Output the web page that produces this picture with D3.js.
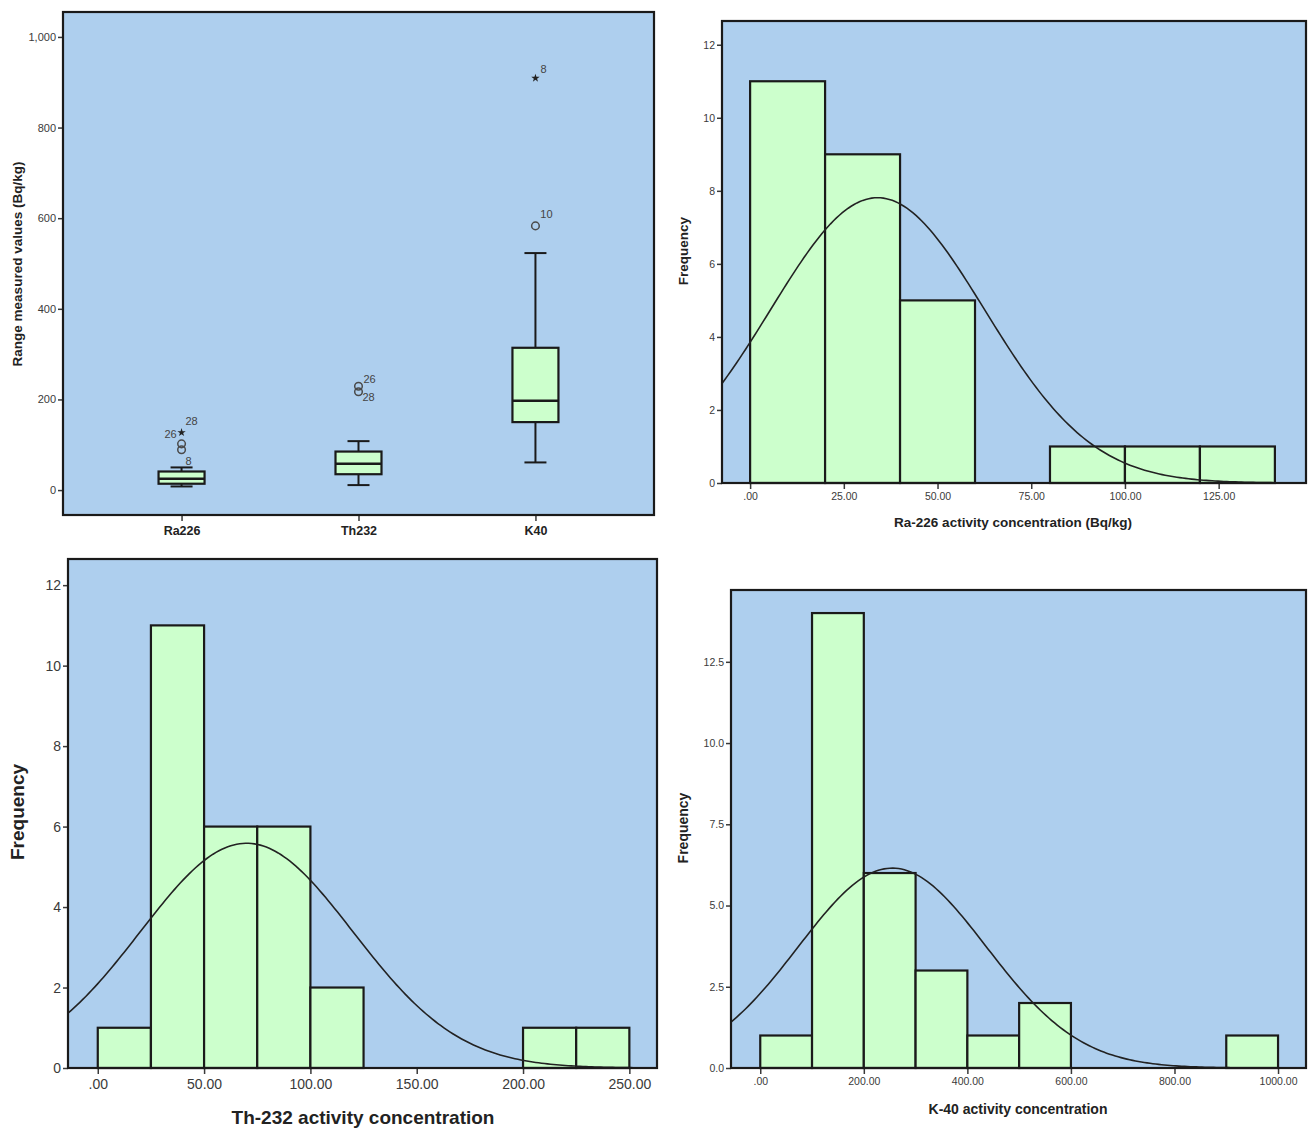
<!DOCTYPE html>
<html>
<head>
<meta charset="utf-8">
<script src="https://cdn.jsdelivr.net/npm/d3@7/dist/d3.min.js"></script>
<style>
  body { margin: 0; background: #fff; }
  svg { display: block; font-family: "Liberation Sans", Arial, sans-serif; }
</style>
</head>
<body>
<svg width="1309" height="1131"></svg>
<script>
// Box plot data (Bq/kg)
var boxCategories = ["Ra226", "Th232", "K40"];
var boxLow    = [8, 11, 61];
var boxQ1     = [14, 35, 150];
var boxMedian = [25, 58, 197];
var boxQ3     = [41, 85, 314];
var boxHigh   = [50, 108, 523];
var boxTicks  = [0, 200, 400, 600, 800, 1000];

// outliers: category, value, case label, extreme (star) or not
var outliers = [
  {cat: "Ra226", v: 89,  label: "8",  extreme: false},
  {cat: "Ra226", v: 102, label: "28", extreme: false},
  {cat: "Ra226", v: 127, label: "26", extreme: true},
  {cat: "Th232", v: 217, label: "28", extreme: false},
  {cat: "Th232", v: 229, label: "26", extreme: false},
  {cat: "K40",   v: 583, label: "10", extreme: false},
  {cat: "K40",   v: 909, label: "8",  extreme: true}
];
// where SPSS put each case label, relative to its point
var labelNudge = [[7, 11], [10, -23], [-11, 1], [10, 5], [11, -7], [11, -12], [8, -9]];

// Histograms
var raBins   = [0, 20, 40, 60, 80, 100, 120, 140];
var raCounts = [11, 9, 5, 0, 1, 1, 1];
var raTicks  = [0, 25, 50, 75, 100, 125];
var raFit    = {mean: 34, sd: 28.6, n: 28};

var thBins   = [0, 25, 50, 75, 100, 125, 150, 175, 200, 225, 250];
var thCounts = [1, 11, 6, 6, 2, 0, 0, 0, 1, 1];
var thTicks  = [0, 50, 100, 150, 200, 250];
var thFit    = {mean: 70, sd: 50, n: 28};

var kBins    = [0, 100, 200, 300, 400, 500, 600, 700, 800, 900, 1000];
var kCounts  = [1, 14, 6, 3, 1, 2, 0, 0, 0, 1];
var kTicks   = [0, 200, 400, 600, 800, 1000];
var kFit     = {mean: 255, sd: 181.6, n: 28};

var svg = d3.select("svg");
var plotBg = "#aecfee", barFill = "#ccffcc", ink = "#1a1a1a", tickInk = "#3a3a3a";

function styleAxis(g, size) {
  g.select(".domain").remove();
  g.selectAll(".tick line").attr("stroke", tickInk).attr("stroke-width", 1.5);
  g.selectAll(".tick text").attr("fill", tickInk).style("font-size", size + "px")
    .style("font-family", "'Liberation Sans', Arial, sans-serif");
}

function frame(g, x0, y0, x1, y1) {
  g.append("rect").attr("x", x0).attr("y", y0).attr("width", x1 - x0).attr("height", y1 - y0)
    .attr("fill", "none").attr("stroke", ink).attr("stroke-width", 2.2);
}

// ---------- box plot ----------
(function() {
  var x0 = 63, x1 = 654, y0 = 12, y1 = 515;
  var g = svg.append("g");
  g.append("rect").attr("x", x0).attr("y", y0).attr("width", x1 - x0).attr("height", y1 - y0).attr("fill", plotBg);

  var y = d3.scaleLinear().domain([-55, 1055]).range([y1, y0]);
  var x = d3.scalePoint().domain(boxCategories).range([x0, x1]).padding(0.67);

  g.append("g").attr("transform", "translate(" + x0 + ",0)")
    .call(d3.axisLeft(y).tickValues(boxTicks).tickFormat(d3.format(",")).tickSize(5).tickPadding(2))
    .call(styleAxis, 11);
  var xa = g.append("g").attr("transform", "translate(0," + y1 + ")")
    .call(d3.axisBottom(x).tickSize(6).tickPadding(5))
    .call(styleAxis, 12.5);
  xa.selectAll(".tick text").attr("font-weight", "bold").attr("fill", "#222");

  var bw = 46, cw = 22;
  boxCategories.forEach(function(c, i) {
    var cx = x(c);
    g.append("line").attr("x1", cx).attr("x2", cx).attr("y1", y(boxLow[i])).attr("y2", y(boxHigh[i]))
      .attr("stroke", ink).attr("stroke-width", 2);
    [boxLow[i], boxHigh[i]].forEach(function(v) {
      g.append("line").attr("x1", cx - cw / 2).attr("x2", cx + cw / 2).attr("y1", y(v)).attr("y2", y(v))
        .attr("stroke", ink).attr("stroke-width", 2);
    });
    g.append("rect").attr("x", cx - bw / 2).attr("width", bw)
      .attr("y", y(boxQ3[i])).attr("height", y(boxQ1[i]) - y(boxQ3[i]))
      .attr("fill", barFill).attr("stroke", ink).attr("stroke-width", 2.2);
    g.append("line").attr("x1", cx - bw / 2).attr("x2", cx + bw / 2).attr("y1", y(boxMedian[i])).attr("y2", y(boxMedian[i]))
      .attr("stroke", ink).attr("stroke-width", 2.6);
  });

  outliers.forEach(function(o, i) {
    var cx = x(o.cat), cy = y(o.v);
    if (o.extreme) {
      g.append("path").attr("transform", "translate(" + cx + "," + cy + ")")
        .attr("d", d3.symbol(d3.symbolStar, 22)()).attr("fill", "#222");
    } else {
      g.append("circle").attr("cx", cx).attr("cy", cy).attr("r", 3.8)
        .attr("fill", "none").attr("stroke", "#4a4a4a").attr("stroke-width", 1.5);
    }
    g.append("text").attr("x", cx + labelNudge[i][0]).attr("y", cy + labelNudge[i][1] + 4)
      .attr("text-anchor", "middle").attr("fill", "#444").style("font-size", "11px").text(o.label);
  });

  g.append("text").attr("transform", "translate(22,264) rotate(-90)").attr("text-anchor", "middle")
    .attr("font-weight", "bold").attr("fill", "#222").style("font-size", "13.5px")
    .text("Range measured values (Bq/kg)");

  frame(g, x0, y0, x1, y1);
})();

// ---------- histograms ----------
function histogram(opt) {
  var g = svg.append("g");
  var x0 = opt.box[0], y0 = opt.box[1], x1 = opt.box[2], y1 = opt.box[3];
  g.append("rect").attr("x", x0).attr("y", y0).attr("width", x1 - x0).attr("height", y1 - y0).attr("fill", plotBg);

  var x = d3.scaleLinear().domain(opt.xDomain).range([x0, x1]);
  var y = d3.scaleLinear().domain(opt.yDomain).range([y1, y0]);

  g.append("g").attr("transform", "translate(" + x0 + ",0)")
    .call(d3.axisLeft(y).tickValues(opt.yTicks).tickFormat(opt.yFormat).tickSize(5).tickPadding(2))
    .call(styleAxis, opt.tickSize);
  g.append("g").attr("transform", "translate(0," + y1 + ")")
    .call(d3.axisBottom(x).tickValues(opt.xTicks)
      .tickFormat(function(v) { return v === 0 ? ".00" : d3.format(".2f")(v); })
      .tickSize(6).tickPadding(opt.xPad))
    .call(styleAxis, opt.tickSize);

  var bars = opt.counts.map(function(c, i) { return {a: opt.bins[i], b: opt.bins[i + 1], c: c}; })
    .filter(function(d) { return d.c > 0; });
  g.selectAll("rect.bar").data(bars).enter().append("rect").attr("class", "bar")
    .attr("x", function(d) { return x(d.a); })
    .attr("width", function(d) { return x(d.b) - x(d.a); })
    .attr("y", function(d) { return y(d.c); })
    .attr("height", function(d) { return y(0) - y(d.c); })
    .attr("fill", barFill).attr("stroke", ink).attr("stroke-width", 2.2);

  // fitted normal curve: n * bin width * normal density
  var w = opt.bins[1] - opt.bins[0], f = opt.fit;
  var xs = d3.range(200).map(function(i) { return opt.xDomain[0] + (opt.xDomain[1] - opt.xDomain[0]) * i / 199; });
  var line = d3.line()
    .x(function(v) { return x(v); })
    .y(function(v) {
      var z = (v - f.mean) / f.sd;
      return y(f.n * w * Math.exp(-0.5 * z * z) / (f.sd * Math.sqrt(2 * Math.PI)));
    });
  g.append("path").attr("d", line(xs)).attr("fill", "none").attr("stroke", "#222").attr("stroke-width", 1.6);

  g.append("text").attr("transform", "translate(" + opt.yLabelPos[0] + "," + opt.yLabelPos[1] + ") rotate(-90)")
    .attr("text-anchor", "middle").attr("font-weight", "bold").attr("fill", "#222")
    .style("font-size", opt.labelSize + "px").text("Frequency");
  g.append("text").attr("x", opt.xLabelPos[0]).attr("y", opt.xLabelPos[1])
    .attr("text-anchor", "middle").attr("font-weight", "bold").attr("fill", "#222")
    .style("font-size", opt.labelSize + "px").text(opt.xLabel);

  frame(g, x0, y0, x1, y1);
}

histogram({
  box: [722, 21, 1306, 483], xDomain: [-7.5, 148.3], yDomain: [0, 12.65],
  bins: raBins, counts: raCounts, fit: raFit, xTicks: raTicks, yTicks: [0, 2, 4, 6, 8, 10, 12],
  yFormat: d3.format("d"), tickSize: 10.5, xPad: 4,
  labelSize: 13.5, yLabelPos: [688, 251], xLabelPos: [1013, 527],
  xLabel: "Ra-226 activity concentration (Bq/kg)"
});

histogram({
  box: [68, 559, 657, 1068], xDomain: [-14, 263], yDomain: [0, 12.65],
  bins: thBins, counts: thCounts, fit: thFit, xTicks: thTicks, yTicks: [0, 2, 4, 6, 8, 10, 12],
  yFormat: d3.format("d"), tickSize: 14, xPad: 5,
  labelSize: 19, yLabelPos: [24, 812], xLabelPos: [363, 1124],
  xLabel: "Th-232 activity concentration"
});

histogram({
  box: [731, 590, 1306, 1068], xDomain: [-56.5, 1054], yDomain: [0, 14.71],
  bins: kBins, counts: kCounts, fit: kFit, xTicks: kTicks, yTicks: [0, 2.5, 5, 7.5, 10, 12.5],
  yFormat: d3.format(".1f"), tickSize: 10.5, xPad: 4,
  labelSize: 14, yLabelPos: [688, 828], xLabelPos: [1018, 1114],
  xLabel: "K-40 activity concentration"
});
</script>
</body>
</html>
